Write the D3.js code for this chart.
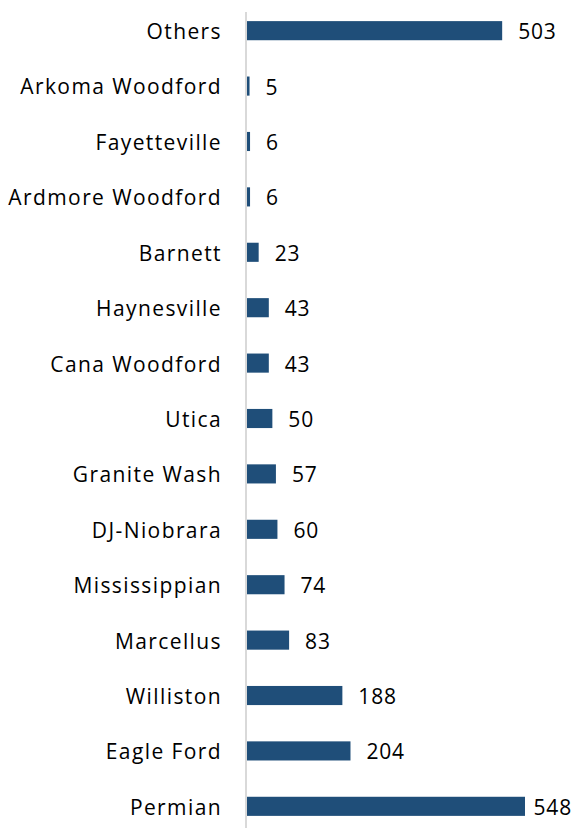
<!DOCTYPE html>
<html>
<head>
<meta charset="utf-8">
<script src="https://cdn.jsdelivr.net/npm/d3@7"></script>
<style>
  body { margin: 0; background: #fff; }
  text { font-family: "Open Sans", sans-serif; fill: #000; }
</style>
</head>
<body>
<svg id="chart" width="574" height="828"></svg>
<script>
// categories top to bottom
var basins = ["Others", "Arkoma Woodford", "Fayetteville", "Ardmore Woodford", "Barnett",
    "Haynesville", "Cana Woodford", "Utica", "Granite Wash", "DJ-Niobrara",
    "Mississippian", "Marcellus", "Williston", "Eagle Ford", "Permian"];
var counts = [503, 5, 6, 6, 23, 43, 43, 50, 57, 60, 74, 83, 188, 204, 548];

var svg = d3.select("#chart"),
    margin = { top: 3, right: 48, bottom: 0, left: 247 },
    width = +svg.attr("width") - margin.left - margin.right,
    height = +svg.attr("height") - margin.top - margin.bottom,
    g = svg.append("g").attr("transform", "translate(" + margin.left + "," + margin.top + ")");

var x = d3.scaleLinear().domain([0, 548]).range([0, 278]);

var y = d3.scaleBand()
    .domain(basins)
    .range([0, 831])
    .paddingInner(0.655)
    .paddingOuter(0.327);

var bar = g.selectAll(".bar")
    .data(basins)
    .enter().append("g")
    .attr("class", "bar");

bar.append("rect")
    .attr("x", 0)
    .attr("y", function(d) { return y(d); })
    .attr("width", function(d, i) { return Math.max(x(counts[i]), 2); })
    .attr("height", y.bandwidth())
    .attr("fill", "#1f4e79");

bar.append("text")
    .attr("x", function(d, i) { return x(counts[i]) + 16; })
    .attr("y", function(d) { return y(d) + y.bandwidth() / 2 + 1; })
    .attr("dy", "0.36em")
    .style("font-size", "21px")
    .style("letter-spacing", "0.8px")
    .text(function(d, i) { return counts[i]; })
    .each(function() {
        // keep label inside the svg like excel does
        var bb = this.getBBox();
        var over = margin.left + bb.x + bb.width - 572;
        if (over > 0) d3.select(this).attr("x", bb.x - over);
    });

// category axis
var yAxis = g.append("g")
    .attr("class", "axis axis--y")
    .call(d3.axisLeft(y).tickSize(0).tickPadding(25));
yAxis.select(".domain").attr("stroke", "#d9d9d9").attr("stroke-width", 2)
    .attr("d", "M-1,9V" + height);
yAxis.selectAll("text")
    .attr("dy", "0.4em")
    .style("font-size", "21px")
    .style("letter-spacing", "1.4px")
    .style("font-family", "'Open Sans', sans-serif");
</script>
</body>
</html>
